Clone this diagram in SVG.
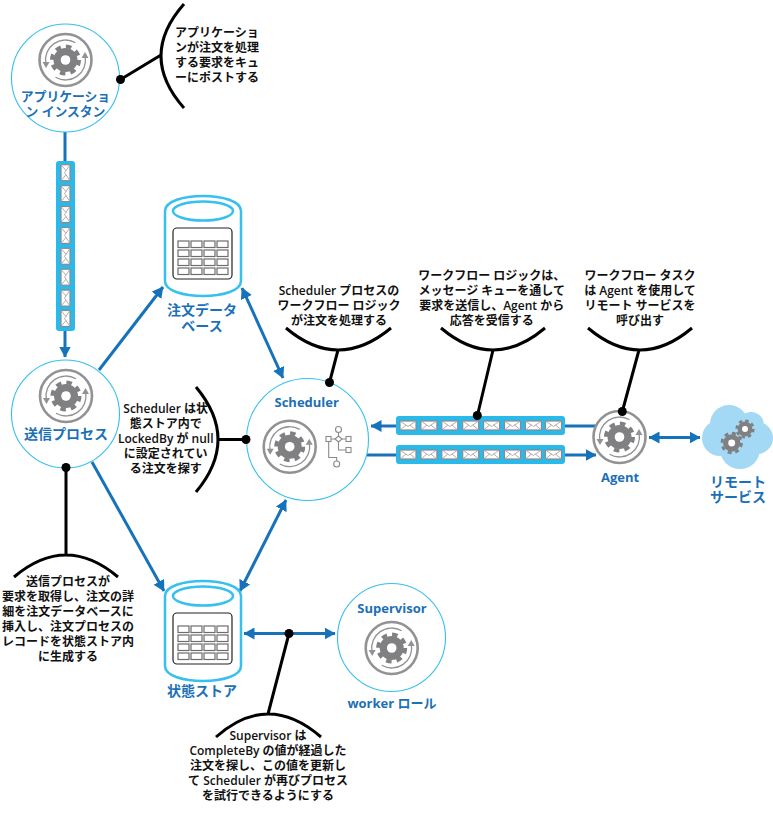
<svg xmlns="http://www.w3.org/2000/svg" xmlns:xlink="http://www.w3.org/1999/xlink" width="773" height="818" viewBox="0 0 773 818">
<style>
.circle{fill:#fff;stroke:#35c0ef;stroke-width:1.1}
.blue{stroke:#1672b9;stroke-width:3;fill:none}
.blk{stroke:#000;stroke-width:3;fill:none}
.dot{fill:#000}
.t{font-family:"Open Sans","Noto Sans CJK JP",sans-serif;font-size:12px;font-weight:600;fill:#111;text-anchor:middle}
.l{font-family:"Open Sans","Noto Sans CJK JP",sans-serif;font-size:14px;font-weight:700;fill:#1b70b6;text-anchor:middle}
.s{font-size:13px}
.q{fill:#29b9ea}
.cyl{fill:#fff;stroke:#35c0ef;stroke-width:2.5}
</style>
<defs>
<marker id="a" viewBox="0 0 11 12" refX="10.5" refY="6" markerWidth="11" markerHeight="12" markerUnits="userSpaceOnUse" orient="auto-start-reverse"><path d="M0 0L11 6L0 12Z" fill="#1672b9"/></marker>
<g id="gear">
<circle r="12" fill="#808083"/>
<circle r="13.5" fill="none" stroke="#808083" stroke-width="4" stroke-dasharray="5.5 5.1"/>
<circle r="4.8" fill="#fff"/>
</g>
<g id="icon">
<circle r="26" fill="#fff" stroke="#929294" stroke-width="2.6"/>
<use xlink:href="#gear"/>
<path d="M10 -17.3A20 20 0 0 0 -19.7 3.5M-10 17.3A20 20 0 0 0 19.7 -3.5" fill="none" stroke="#929294" stroke-width="1.3"/>
<path d="M-23 2L-16 2L-19.5 8ZM23 -2L16 -2L19.5 -8Z" fill="#929294"/>
</g>
<g id="env">
<rect x="-8" y="-4.5" width="16" height="9" fill="#fff" stroke="#8a8a8c" stroke-width="1.2"/>
<path d="M-8 -4.5L0 1L8 -4.5M-8 4.5L-2 -.5M8 4.5L2 -.5" fill="none" stroke="#a5a5a7" stroke-width=".9"/>
</g>
<g id="table">
<rect x="173" y="228" width="59" height="51" rx="4" fill="#fff" stroke="#222" stroke-width="1.2"/>
<g fill="#fff" stroke="#6d6d6f" stroke-width="1.2">
<rect x="178" y="241" width="11" height="6.5"/><rect x="191" y="241" width="11" height="6.5"/><rect x="204" y="241" width="11" height="6.5"/><rect x="217" y="241" width="11" height="6.5"/>
<rect x="178" y="250" width="11" height="6.5"/><rect x="191" y="250" width="11" height="6.5"/><rect x="204" y="250" width="11" height="6.5"/><rect x="217" y="250" width="11" height="6.5"/>
<rect x="178" y="259" width="11" height="6.5"/><rect x="191" y="259" width="11" height="6.5"/><rect x="204" y="259" width="11" height="6.5"/><rect x="217" y="259" width="11" height="6.5"/>
<rect x="178" y="268" width="11" height="6.5"/><rect x="191" y="268" width="11" height="6.5"/><rect x="204" y="268" width="11" height="6.5"/><rect x="217" y="268" width="11" height="6.5"/>
</g>
</g>
<g id="cyl">
<path class="cyl" d="M165 211C165 191 241 191 241 211V281C241 301 165 301 165 281Z"/>
<ellipse class="cyl" cx="203" cy="211" rx="30" ry="9.5" stroke-width="2"/>
<use xlink:href="#table"/>
</g>
</defs>
<g id="connectors">
<path class="blue" d="M65 132V161"/>
<path class="blue" d="M65 331V357" marker-end="url(#a)"/>
<path class="blue" d="M99 370L163 287" marker-end="url(#a)"/>
<path class="blue" d="M92 462L164 591" marker-end="url(#a)"/>
<path class="blue" d="M242 288L283 378" marker-start="url(#a)" marker-end="url(#a)"/>
<path class="blue" d="M240 591L286 500" marker-start="url(#a)" marker-end="url(#a)"/>
<path class="blue" d="M244 633.5H335" marker-start="url(#a)" marker-end="url(#a)"/>
<path class="blue" d="M596 426H371" marker-end="url(#a)"/>
<path class="blue" d="M367 455H596" marker-end="url(#a)"/>
<path class="blue" d="M649 437.5H700" marker-start="url(#a)" marker-end="url(#a)"/>
</g>
<g id="node-app"><circle class="circle" cx="65.5" cy="78" r="54"/><use xlink:href="#icon" x="65.5" y="60"/><text class="l" x="65.5" y="101" style="font-size:12.8px">アプリケーショ</text><text class="l" x="65.5" y="116" style="font-size:12.8px">ン インスタン</text></g>
<g id="node-sender"><circle class="circle" cx="65.5" cy="414" r="54"/><use xlink:href="#icon" x="66" y="396"/><text class="l" x="66" y="439">送信プロセス</text></g>
<g id="node-scheduler"><circle class="circle" cx="307.5" cy="439.5" r="61"/><use xlink:href="#icon" x="289.7" y="446.7"/><text class="l s" x="306.7" y="407">Scheduler</text>
<g fill="none" stroke="#8a8a8c" stroke-width="1.1"><path d="M338.5 432.5V436M331 439H335M342 439H346M338.5 442V450H346M328.7 441.5V457.5H336.7V461"/><circle cx="338.5" cy="429.5" r="3"/><circle cx="336.7" cy="464" r="3"/><rect x="326" y="436.5" width="5" height="5"/><path d="M338.5 436L342 439L338.5 442L335 439Z"/><rect x="346" y="436.5" width="5" height="5"/><rect x="346" y="447.5" width="5" height="5"/></g></g>
<g id="node-supervisor"><circle class="circle" cx="391.5" cy="637.5" r="54"/><use xlink:href="#icon" x="391.7" y="648"/><text class="l s" x="392" y="612.5">Supervisor</text><text class="l s" x="392" y="708">worker ロール</text></g>
<g id="node-db"><use xlink:href="#cyl"/><text class="l" x="202" y="315">注文データ</text><text class="l" x="202" y="330.500">ベース</text></g>
<g id="node-state"><use xlink:href="#cyl" y="385"/><text class="l" x="202" y="695.500">状態ストア</text></g>
<g id="node-agent"><use xlink:href="#icon" x="619.500" y="437"/><text class="l s" x="620" y="481.500">Agent</text></g>
<g id="node-remote"><g fill="#a3d9f5"><circle cx="720" cy="438" r="18"/><circle cx="729" cy="424" r="19"/><circle cx="751" cy="425" r="13"/><circle cx="757" cy="438" r="16"/><circle cx="740" cy="449" r="20"/></g><use xlink:href="#gear" transform="translate(731.700 443) scale(.72)"/><use xlink:href="#gear" transform="translate(745 429) scale(.62)"/><text class="l" x="738" y="487">リモート</text><text class="l" x="738" y="502">サービス</text></g>
<g id="queue-in"><rect class="q" x="56" y="161" width="19" height="170" rx="3"/><use xlink:href="#env" transform="translate(65.500 172.700) rotate(90)"/><use xlink:href="#env" transform="translate(65.500 193.600) rotate(90)"/><use xlink:href="#env" transform="translate(65.500 214.500) rotate(90)"/><use xlink:href="#env" transform="translate(65.500 235.400) rotate(90)"/><use xlink:href="#env" transform="translate(65.500 256.300) rotate(90)"/><use xlink:href="#env" transform="translate(65.500 277.200) rotate(90)"/><use xlink:href="#env" transform="translate(65.500 298.100) rotate(90)"/><use xlink:href="#env" transform="translate(65.500 318.500) rotate(90)"/></g>
<g id="queue-resp"><rect class="q" x="396" y="416" width="169" height="19" rx="3"/><use xlink:href="#env" x="408" y="425.500"/><use xlink:href="#env" x="428.900" y="425.500"/><use xlink:href="#env" x="449.800" y="425.500"/><use xlink:href="#env" x="470.700" y="425.500"/><use xlink:href="#env" x="491.600" y="425.500"/><use xlink:href="#env" x="512.500" y="425.500"/><use xlink:href="#env" x="533.400" y="425.500"/><use xlink:href="#env" x="553.500" y="425.500"/></g>
<g id="queue-req"><rect class="q" x="396" y="445" width="169" height="19" rx="3"/><use xlink:href="#env" x="408" y="454.500"/><use xlink:href="#env" x="428.900" y="454.500"/><use xlink:href="#env" x="449.800" y="454.500"/><use xlink:href="#env" x="470.700" y="454.500"/><use xlink:href="#env" x="491.600" y="454.500"/><use xlink:href="#env" x="512.500" y="454.500"/><use xlink:href="#env" x="533.400" y="454.500"/><use xlink:href="#env" x="553.500" y="454.500"/></g>
<g id="callout-app"><path class="blk" d="M184 4Q138 56 184 108M120.500 79.500L161 55"/><circle class="dot" cx="120.500" cy="79.500" r="4.500"/><text class="t" x="217" y="37">アプリケーショ</text><text class="t" x="217" y="52">ンが注文を処理</text><text class="t" x="217" y="66.500">する要求をキュ</text><text class="t" x="217" y="81.500">ーにポストする</text></g>
<g id="callout-sched-top"><path class="blk" d="M286 328Q338 372 391 328M338 350L329.500 382.500"/><circle class="dot" cx="329.500" cy="382.500" r="4.500"/><text class="t" x="339" y="295">Scheduler プロセスの</text><text class="t" x="339" y="310">ワークフロー ロジック</text><text class="t" x="339" y="325">が注文を処理する</text></g>
<g id="callout-workflow"><path class="blk" d="M441 328Q493 372 545 328M493 350L477.300 416"/><circle class="dot" cx="477.300" cy="415.500" r="4.500"/><text class="t" x="491.700" y="280">ワークフロー ロジックは、</text><text class="t" x="491.700" y="295">メッセージ キューを通して</text><text class="t" x="491.700" y="310">要求を送信し、Agent から</text><text class="t" x="491.700" y="325">応答を受信する</text></g>
<g id="callout-agent"><path class="blk" d="M588 328Q640 372 692 328M639 350L622.300 411.500"/><circle class="dot" cx="622.300" cy="411.500" r="4.500"/><text class="t" x="640" y="280">ワークフロー タスク</text><text class="t" x="640" y="295">は Agent を使用して</text><text class="t" x="640" y="310">リモート サービスを</text><text class="t" x="640" y="325">呼び出す</text></g>
<g id="callout-lock"><path class="blk" d="M196 387Q240 439.500 196 492M218 439.500H246"/><circle class="dot" cx="246" cy="439.500" r="4.500"/><text class="t" x="165.700" y="413">Scheduler は状</text><text class="t" x="165.700" y="428">態ストア内で</text><text class="t" x="165.700" y="443">LockedBy が null</text><text class="t" x="165.700" y="458">に設定されてい</text><text class="t" x="165.700" y="473">る注文を探す</text></g>
<g id="callout-sender"><path class="blk" d="M14 577Q66 533 118 577M66 467.500V555"/><circle class="dot" cx="66" cy="467.500" r="4.500"/><text class="t" x="68" y="586">送信プロセスが</text><text class="t" x="68" y="601">要求を取得し、注文の詳</text><text class="t" x="68" y="616">細を注文データベースに</text><text class="t" x="68" y="631">挿入し、注文プロセスの</text><text class="t" x="68" y="646">レコードを状態ストア内</text><text class="t" x="68" y="661">に生成する</text></g>
<g id="callout-supervisor"><path class="blk" d="M216 737Q268 691 321 737M268 714L289 633.500"/><circle class="dot" cx="289" cy="633.500" r="4.500"/><text class="t" x="268" y="740">Supervisor は</text><text class="t" x="268" y="755">CompleteBy の値が経過した</text><text class="t" x="268" y="770">注文を探し、この値を更新し</text><text class="t" x="268" y="785">て Scheduler が再びプロセス</text><text class="t" x="268" y="800">を試行できるようにする</text></g>
</svg>
